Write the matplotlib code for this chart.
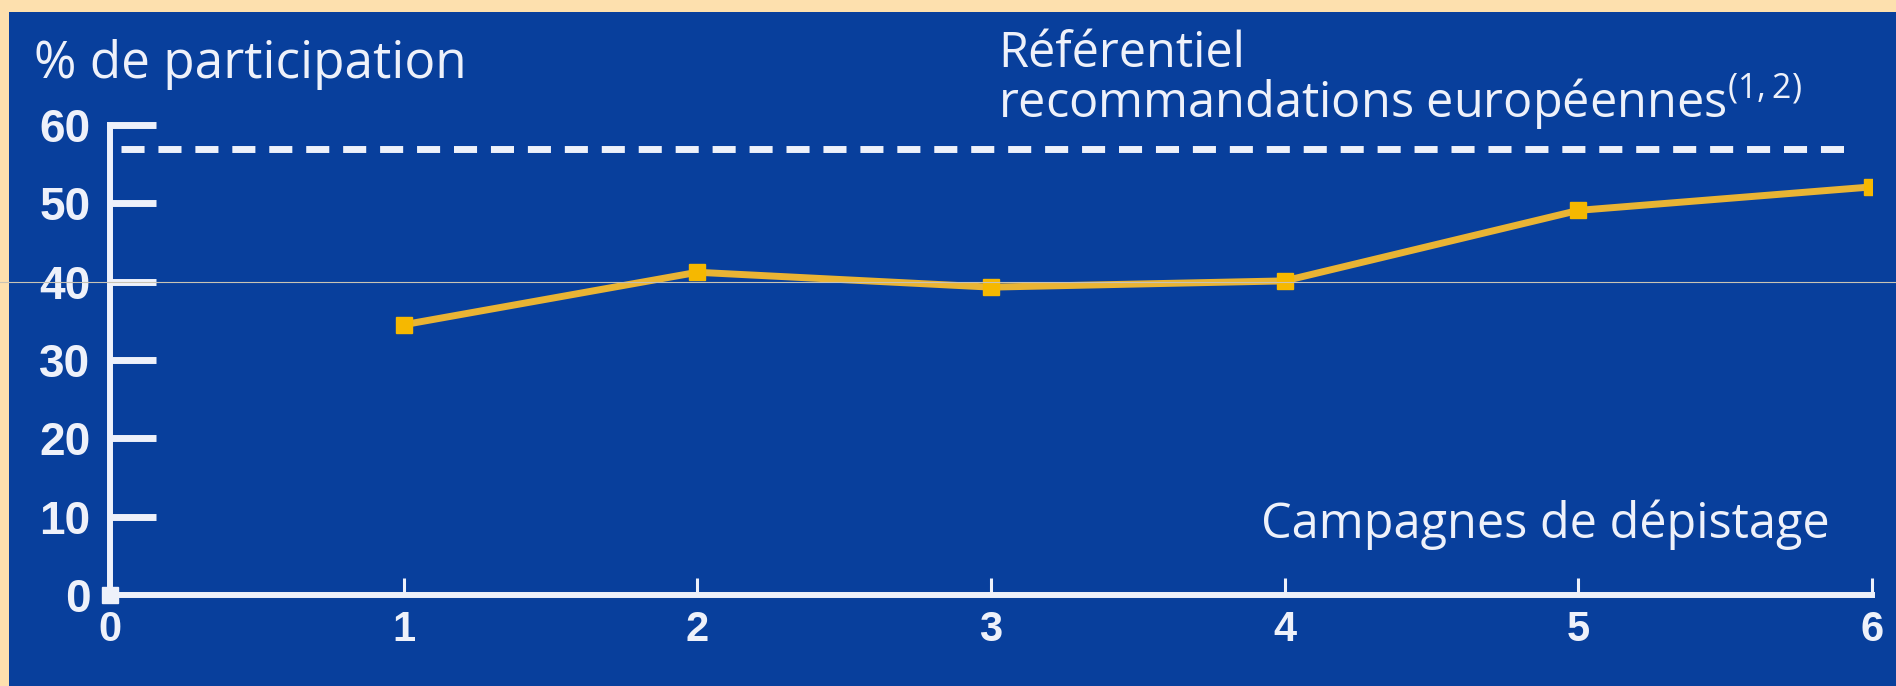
import matplotlib
matplotlib.use('Agg')
import matplotlib.pyplot as plt
from matplotlib.patches import Rectangle

# data
campagnes = [1, 2, 3, 4, 5, 6]
participation = [34.5, 41.2, 39.3, 40.1, 49.1, 52.1]
referentiel = 57
xticks = [0, 1, 2, 3, 4, 5, 6]
yticks = [0, 10, 20, 30, 40, 50, 60]

BLUE = '#083f9c'
TAN = '#fde0ae'
WHITE = '#eef1fa'
GOLD = '#e9b434'
MARK = '#f6b800'

plt.rcParams['font.family'] = ['Open Sans', 'DejaVu Sans']
plt.rcParams['mathtext.fontset'] = 'custom'
plt.rcParams['mathtext.rm'] = 'Open Sans'
plt.rcParams['lines.scale_dashes'] = False

W, H = 1896, 686
fig = plt.figure(figsize=(W / 100, H / 100), dpi=100, facecolor=TAN)
fig.add_artist(Rectangle((9 / W, 0), 1, 1 - 12 / H, transform=fig.transFigure,
                         facecolor=BLUE, edgecolor='none', zorder=0))

x0, x1, y0, y1 = 110, 1872, 595, 125
ax = fig.add_axes([x0 / W, 1 - y0 / H, (x1 - x0) / W, (y0 - y1) / H])
ax.set_facecolor('none')
ax.set_xlim(xticks[0], xticks[-1])
ax.set_ylim(yticks[0], yticks[-1])

for s in ['top', 'right']:
    ax.spines[s].set_visible(False)
for s in ['left', 'bottom']:
    ax.spines[s].set_color(WHITE)
    ax.spines[s].set_linewidth(4.3)
    ax.spines[s].set_capstyle('projecting')

ax.set_xticks(xticks)
ax.set_yticks(yticks)
ax.tick_params(axis='x', direction='in', length=12, width=2.2, color=WHITE,
               labelcolor=WHITE, pad=11)
ax.tick_params(axis='y', direction='in', length=33, width=5, color=WHITE,
               labelcolor=WHITE, pad=14)
for lab in ax.get_xticklabels():
    lab.set_fontfamily('Liberation Sans')
    lab.set_fontweight('bold')
    lab.set_fontsize(30)
for lab in ax.get_yticklabels():
    lab.set_fontfamily('Liberation Sans')
    lab.set_fontweight('bold')
    lab.set_fontsize(33)
ax.yaxis.get_major_ticks()[0].tick1line.set_visible(False)
ax.xaxis.get_major_ticks()[0].tick1line.set_visible(False)
# little block at the origin
ax.plot([xticks[0]], [yticks[0]], marker='s', ms=12, color=WHITE, clip_on=False, zorder=5)

# reference level (dashed)
ax.axhline(referentiel, xmin=0.006, xmax=0.99, color=WHITE, lw=5,
           ls=(0, (16.6, 10)), dash_capstyle='butt')

ax.plot(campagnes, participation, color=GOLD, lw=5, marker='s', ms=12,
        mfc=MARK, mec=MARK, solid_joinstyle='round', zorder=4)

# thin scan line seen across the picture
ax.axhline(40, xmin=-x0 / (x1 - x0), xmax=(W - x0) / (x1 - x0), color='#c9c3b4',
           lw=0.8, clip_on=False, zorder=6)

fs = 35
fig.text(34 / W, 1 - 78 / H, '% de participation', color=WHITE, fontsize=37, va='baseline')
fig.text(998 / W, 1 - 118 / H, 'Référentiel\n' + r'recommandations européennes$^{(1,2)}$',
         color=WHITE, fontsize=fs, va='baseline', linespacing=0.85)
fig.text(1830 / W, 1 - 538 / H, 'Campagnes de dépistage', color=WHITE, fontsize=fs,
         va='baseline', ha='right')

fig.savefig('out.png', dpi=100, facecolor=TAN)
